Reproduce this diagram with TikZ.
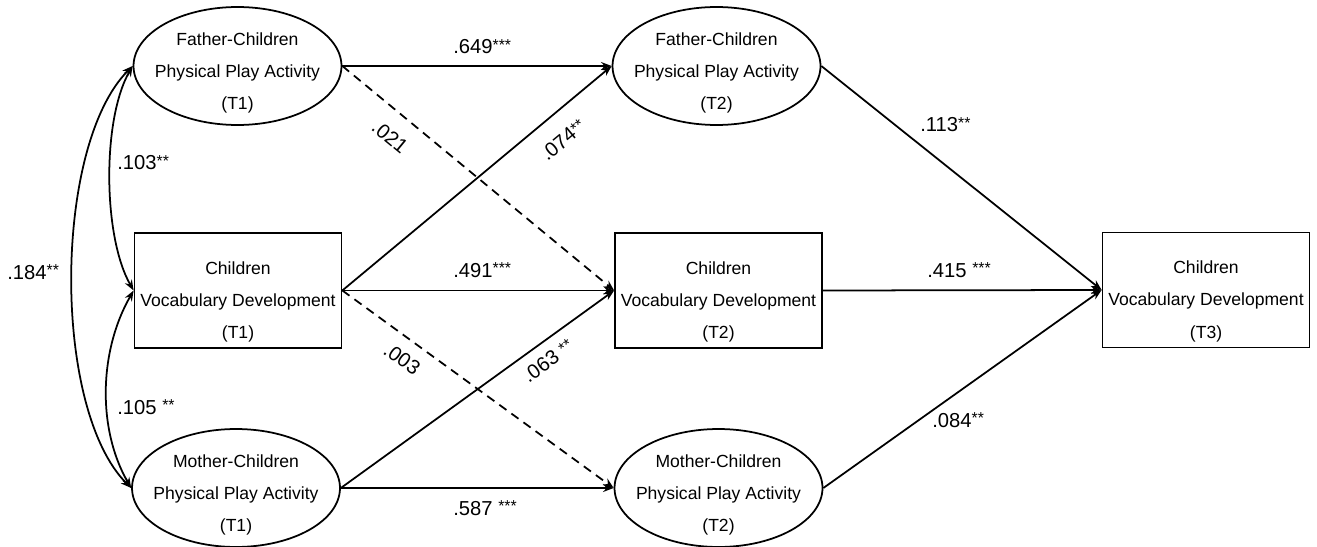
\documentclass[tikz,border=0pt]{standalone}
\usepackage{fontspec}
\setmainfont{Liberation Sans}
\usetikzlibrary{shapes.geometric,arrows.meta}

\newcommand{\stars}[1]{{\fontsize{9}{11}\selectfont\raisebox{1.8pt}{#1}}}

\tikzset{
  nodetext/.style={align=center, inner sep=0pt, font=\fontsize{10}{18.3}\selectfont},
  latent/.style={ellipse, draw, line width=1pt, minimum width=4.16cm,
    minimum height=2.36cm, inner sep=0pt,
    label={[nodetext, yshift=-4pt]center:#1}},
  observed/.style={rectangle, draw, line width=1pt, minimum width=4.14cm,
    minimum height=2.3cm, inner sep=0pt,
    label={[nodetext, yshift=-6.5pt]center:#1}},
  effect/.style={-{Stealth[length=6pt,width=4.5pt]}, line width=1pt},
  weak/.style={effect, dash pattern=on 5pt off 3.5pt},
  covar/.style={{Stealth[length=6pt,width=4.5pt]}-{Stealth[length=6pt,width=4.5pt]},
    line width=1pt},
  coef/.style={font=\fontsize{11.5}{13}\selectfont, inner sep=0pt},
}

\begin{document}
\begin{tikzpicture}[x=0.02cm, y=0.02cm]
  \useasboundingbox (0,0) rectangle (1317,-547);
  % T1
  \node[latent={Father-Children\\Physical Play Activity\\(T1)}]   (fpa1) at (237.5,-66) {};
  \node[observed={Children\\Vocabulary Development\\(T1)}]       (voc1) at (238,-290.5) {};
  \node[latent={Mother-Children\\Physical Play Activity\\(T1)}]   (mpa1) at (236,-488) {};
  % T2
  \node[latent={Father-Children\\Physical Play Activity\\(T2)}]   (fpa2) at (716.5,-66) {};
  \node[observed={Children\\Vocabulary Development\\(T2)}]       (voc2) at (718.5,-290.5) {};
  \node[latent={Mother-Children\\Physical Play Activity\\(T2)}]   (mpa2) at (718.5,-488) {};
  % T3
  \node[observed={Children\\Vocabulary Development\\(T3)}]       (voc3) at (1206,-290) {};

  % correlations at T1
  \draw[covar] (fpa1.west) to[out=240,in=120,looseness=0.7] (voc1.west);
  \draw[covar] (voc1.west) to[out=240,in=120,looseness=0.89] (mpa1.west);
  \draw[covar] (fpa1.west) to[out=225,in=135,looseness=0.68] (mpa1.west);
  \node[coef, anchor=base west] (r103) at (117,-170) {.103\stars{**}};
  \node[coef, anchor=base west] (r105) at (117,-414) {.105 \stars{**}};
  \node[coef, anchor=base west] (r184) at (7,-279)   {.184\stars{**}};

  % T1 -> T2
  \draw[effect] (fpa1.east) -- (fpa2.west);
  \draw[weak]   (fpa1.east) -- (voc2.west);
  \draw[effect] (voc1.east) -- (fpa2.west);
  \draw[effect] (voc1.east) -- (voc2.west);
  \draw[weak]   (voc1.east) -- (mpa2.west);
  \draw[effect] (mpa1.east) -- (voc2.west);
  \draw[effect] (mpa1.east) -- (mpa2.west);
  \node[coef, anchor=base west] (b649) at (453,-54)  {.649\stars{***}};
  \node[coef, anchor=base west] (b491) at (453,-277) {.491\stars{***}};
  \node[coef, anchor=base west] (b587) at (453,-515) {.587 \stars{***}};
  \node[coef, rotate=-39.4] (b021) at (390,-137) {.021};
  \node[coef, rotate=39.7]  (b074) at (563,-140) {.074\stars{**}};
  \node[coef, rotate=-35.9] (b003) at (402,-359) {.003};
  \node[coef, rotate=35.8]  (b063) at (548,-361) {.063 \stars{**}};

  % T2 -> T3
  \draw[effect] (fpa2.east) -- (voc3.west);
  \draw[effect] (voc2.east) -- (voc3.west);
  \draw[effect] (mpa2.east) -- (voc3.west);
  \node[coef, anchor=base west] (b113) at (920,-132) {.113\stars{**}};
  \node[coef, anchor=base west] (b415) at (927,-277) {.415 \stars{***}};
  \node[coef, anchor=base west] (b084) at (932,-427) {.084\stars{**}};
\end{tikzpicture}
\end{document}
